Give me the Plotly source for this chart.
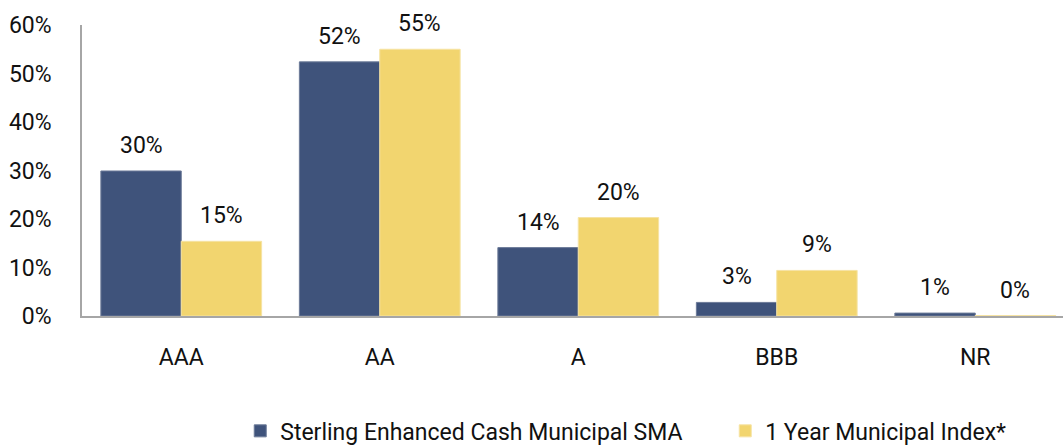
import plotly.graph_objects as go

categories = ["AAA", "AA", "A", "BBB", "NR"]
sma_values = [29.9, 52.4, 14.1, 2.8, 0.6]
index_values = [15.4, 55.0, 20.3, 9.4, 0.1]
sma_labels = ["30%", "52%", "14%", "3%", "1%"]
index_labels = ["15%", "55%", "20%", "9%", "0%"]
series_names = ["Sterling Enhanced Cash Municipal SMA", "1 Year Municipal Index*"]
y_ticks = [0, 10, 20, 30, 40, 50, 60]
y_tick_labels = ["0%", "10%", "20%", "30%", "40%", "50%", "60%"]

BLUE = "#3F537B"
YELLOW = "#F2D56F"
FONT = "Roboto, DejaVu Sans, sans-serif"
FS = 23
BARGAP = 0.19

fig = go.Figure()
fig.add_trace(go.Bar(x=categories, y=sma_values, name=series_names[0],
                     marker=dict(color=BLUE, line=dict(color="#6C7A98", width=1))))
fig.add_trace(go.Bar(x=categories, y=index_values, name=series_names[1],
                     marker=dict(color=YELLOW, line=dict(color="#F6E3A3", width=1))))

half = (1 - BARGAP) / 4
annotations = []
for i, cat in enumerate(categories):
    for vals, labs, off in ((sma_values, sma_labels, -half), (index_values, index_labels, half)):
        annotations.append(dict(x=i + off, y=vals[i], xref="x", yref="y", text=labs[i],
                                showarrow=False, yanchor="bottom", yshift=10,
                                font=dict(family=FONT, size=FS, color="#111111")))

fig.update_layout(
    width=1063, height=447,
    margin=dict(l=82, r=0, t=25, b=131, pad=0, autoexpand=False),
    paper_bgcolor="white", plot_bgcolor="white",
    barmode="group", bargap=BARGAP, bargroupgap=0,
    font=dict(family=FONT, size=FS, color="#111111"),
    annotations=annotations,
    showlegend=True,
    legend=dict(orientation="h", x=0.226, xref="container", xanchor="left",
                y=0.036, yref="container", yanchor="middle",
                font=dict(family=FONT, size=FS, color="#111111"),
                itemwidth=30, entrywidth=440, entrywidthmode="pixels",
                bgcolor="rgba(0,0,0,0)", traceorder="normal"),
)
fig.update_xaxes(type="category", range=[-0.5, 4.442], showline=True, linecolor="#A6A6A6",
                 linewidth=1.5, showgrid=False, ticks="", zeroline=False,
                 ticklabelstandoff=20, tickfont=dict(family=FONT, size=FS, color="#111111"))
fig.update_yaxes(range=[0, 60], tickvals=y_ticks, ticktext=y_tick_labels, showline=True,
                 linecolor="#A6A6A6", linewidth=1.5, showgrid=False, ticks="", zeroline=False,
                 ticklabelstandoff=24, tickfont=dict(family=FONT, size=FS, color="#111111"))

fig.write_html("out.html")
